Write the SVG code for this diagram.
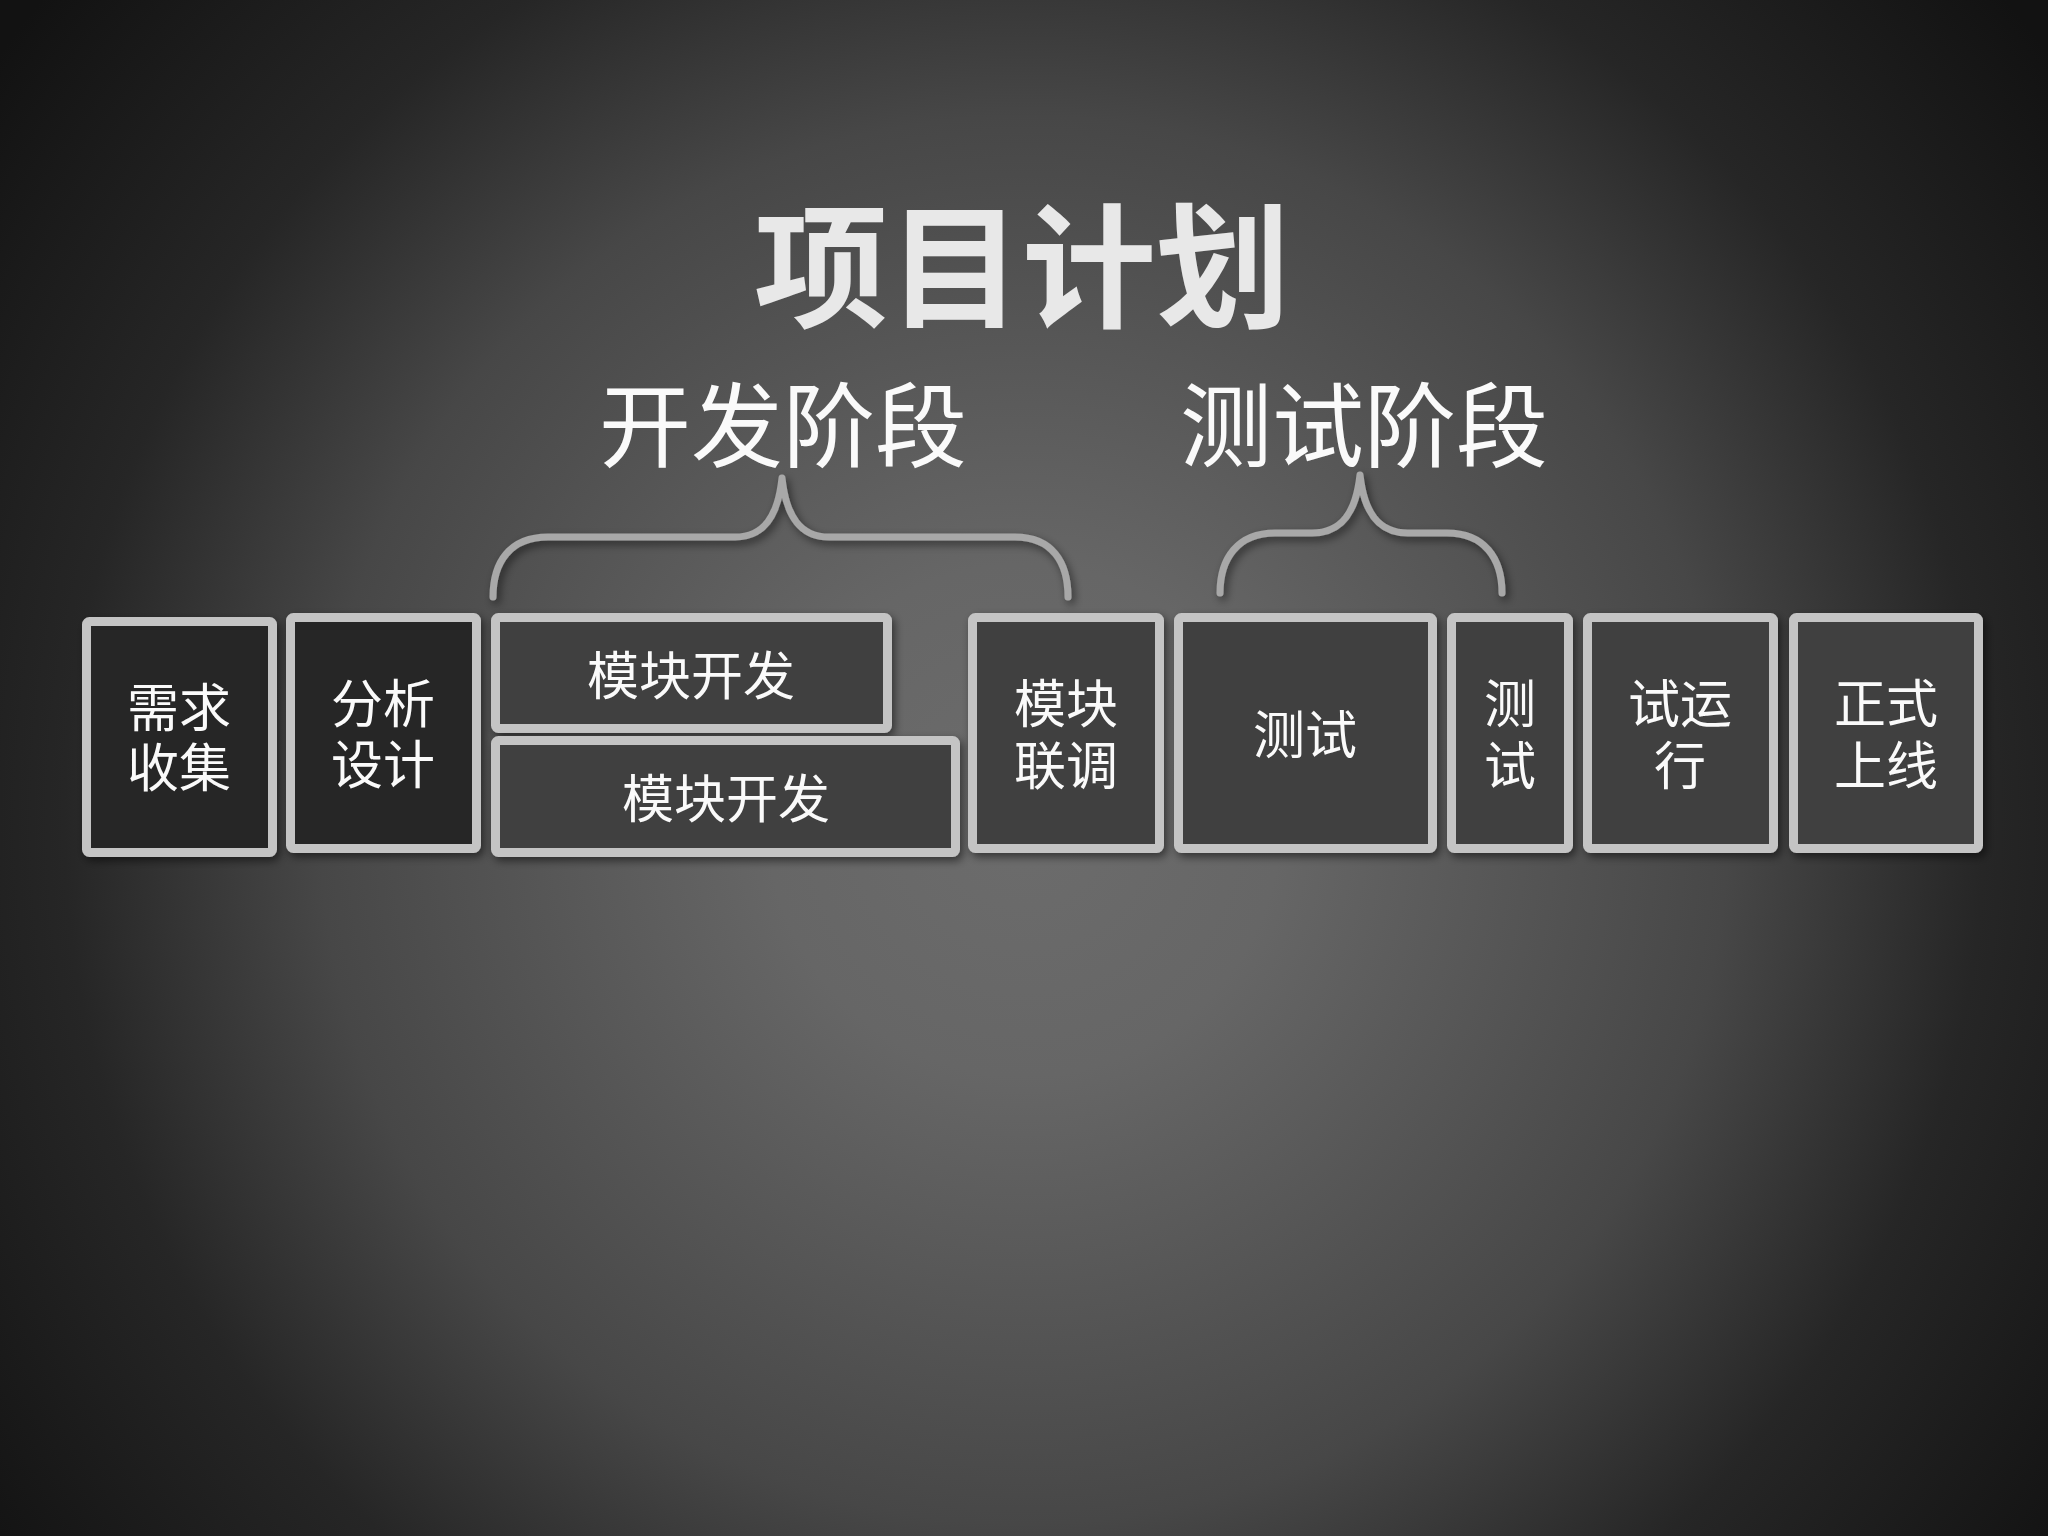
<svg xmlns="http://www.w3.org/2000/svg" width="2048" height="1536" viewBox="0 0 2048 1536">
<defs>
<radialGradient id="bg" cx="1024" cy="820" r="1280" gradientUnits="userSpaceOnUse">
<stop offset="0" stop-color="#6c6c6c"/>
<stop offset="0.2" stop-color="#666666"/>
<stop offset="0.55" stop-color="#474747"/>
<stop offset="0.75" stop-color="#262626"/>
<stop offset="1" stop-color="#121212"/>
</radialGradient>
<filter id="sh" x="-20%" y="-20%" width="140%" height="140%">
<feDropShadow dx="3" dy="4" stdDeviation="4" flood-color="#000" flood-opacity="0.5"/>
</filter>
<style>
.box{stroke:#c4c4c4;stroke-width:9;filter:url(#sh)}
.d1{fill:#262626}
.d2{fill:#404040}
.lbl{font-family:"Noto Sans CJK SC","Noto Sans",sans-serif;font-size:52px;fill:#fafafa;text-anchor:middle;dominant-baseline:central}
.sub{font-family:"Noto Sans CJK SC","Noto Sans",sans-serif;font-size:92px;fill:#fafafa;text-anchor:middle;dominant-baseline:central}
.title{font-family:"Noto Sans CJK SC","Noto Sans",sans-serif;font-size:134px;font-weight:bold;fill:#e8e8e8;text-anchor:middle;dominant-baseline:central}
.brace{fill:none;stroke:#a8a8a8;stroke-width:7;stroke-linecap:round;stroke-linejoin:round;filter:url(#sh)}
</style>
</defs>
<rect x="0" y="0" width="2048" height="1536" fill="url(#bg)"/>
<text class="title" x="1022" y="259">项目计划</text>
<text class="sub" x="783" y="419">开发阶段</text>
<text class="sub" x="1364" y="419">测试阶段</text>
<g id="connectors">
<path class="brace" d="M493,597 C493,562 510,537 548,537 L735,537 C764,537 778,516 782,478 C786,516 800,537 829,537 L1015,537 C1052,537 1068,562 1068,597"/>
<path class="brace" d="M1220,593 C1220,558 1238,533 1275,533 L1312,533 C1342,533 1356,512 1360,475 C1364,512 1378,533 1408,533 L1447,533 C1484,533 1502,558 1502,593"/>
</g>
<g id="n1"><rect class="box d1" x="86.5" y="621.5" width="186" height="231" rx="3"/><text class="lbl" x="179" y="704">需求</text><text class="lbl" x="179" y="764">收集</text></g>
<g id="n2"><rect class="box d1" x="290.5" y="617.5" width="186" height="231" rx="3"/><text class="lbl" x="383" y="700">分析</text><text class="lbl" x="383" y="761">设计</text></g>
<g id="n3"><rect class="box d2" x="495.5" y="617.5" width="392" height="111" rx="3"/><text class="lbl" x="691" y="672">模块开发</text></g>
<g id="n4"><rect class="box d2" x="495.5" y="740.5" width="460" height="112" rx="3"/><text class="lbl" x="726" y="795">模块开发</text></g>
<g id="n5"><rect class="box d2" x="972.5" y="617.5" width="187" height="231" rx="3"/><text class="lbl" x="1066" y="700">模块</text><text class="lbl" x="1066" y="762">联调</text></g>
<g id="n6"><rect class="box d2" x="1178.5" y="617.5" width="254" height="231" rx="3"/><text class="lbl" x="1305" y="731">测试</text></g>
<g id="n7"><rect class="box d2" x="1451.5" y="617.5" width="117" height="231" rx="3"/><text class="lbl" x="1510" y="700">测</text><text class="lbl" x="1510" y="762">试</text></g>
<g id="n8"><rect class="box d2" x="1587.5" y="617.5" width="186" height="231" rx="3"/><text class="lbl" x="1680" y="700">试运</text><text class="lbl" x="1680" y="762">行</text></g>
<g id="n9"><rect class="box d2" x="1793.5" y="617.5" width="185" height="231" rx="3"/><text class="lbl" x="1886" y="700">正式</text><text class="lbl" x="1886" y="762">上线</text></g>
</svg>
